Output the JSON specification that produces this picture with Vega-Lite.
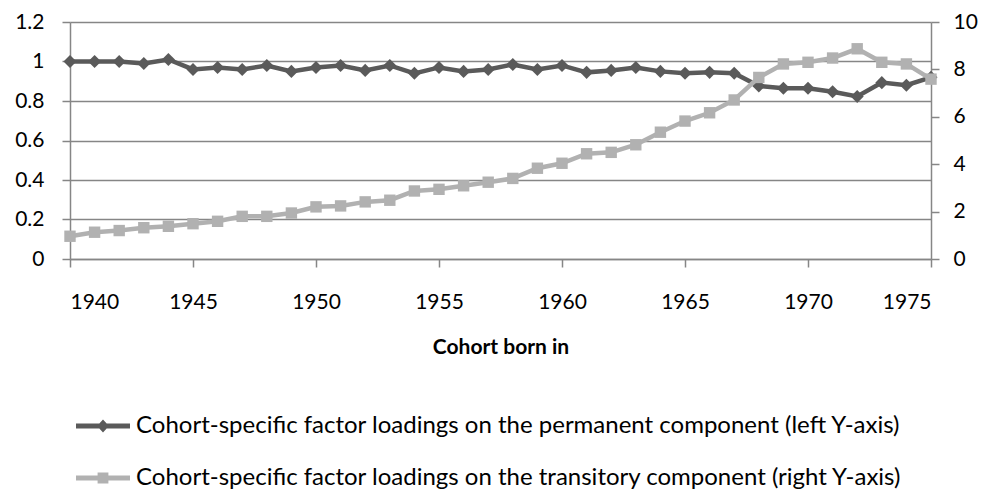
{
  "$schema": "https://vega.github.io/schema/vega-lite/v6.json",
  "width": 861,
  "height": 237,
  "autosize": "none",
  "padding": {"left": 70, "top": 22, "right": 54, "bottom": 230},
  "config": {
    "font": "Lato",
    "view": {"stroke": null},
    "axis": {
      "labelFont": "Lato",
      "labelFontSize": 21,
      "labelColor": "#000000",
      "domainColor": "#868686",
      "domainWidth": 1.5,
      "tickColor": "#868686",
      "tickWidth": 1.5,
      "tickSize": 8,
      "gridColor": "#868686",
      "gridWidth": 1.5
    }
  },
  "data": {
    "values": [
      {"year": 1940, "perm": 1.0, "trans": 0.96},
      {"year": 1941, "perm": 1.0, "trans": 1.13},
      {"year": 1942, "perm": 1.0, "trans": 1.2},
      {"year": 1943, "perm": 0.99, "trans": 1.32},
      {"year": 1944, "perm": 1.01, "trans": 1.38},
      {"year": 1945, "perm": 0.96, "trans": 1.49},
      {"year": 1946, "perm": 0.97, "trans": 1.59},
      {"year": 1947, "perm": 0.96, "trans": 1.8},
      {"year": 1948, "perm": 0.98, "trans": 1.8},
      {"year": 1949, "perm": 0.95, "trans": 1.94},
      {"year": 1950, "perm": 0.97, "trans": 2.2},
      {"year": 1951, "perm": 0.98, "trans": 2.24},
      {"year": 1952, "perm": 0.955, "trans": 2.41},
      {"year": 1953, "perm": 0.98, "trans": 2.48},
      {"year": 1954, "perm": 0.94, "trans": 2.87},
      {"year": 1955, "perm": 0.97, "trans": 2.94},
      {"year": 1956, "perm": 0.95, "trans": 3.09},
      {"year": 1957, "perm": 0.96, "trans": 3.24},
      {"year": 1958, "perm": 0.985, "trans": 3.4},
      {"year": 1959, "perm": 0.96, "trans": 3.83},
      {"year": 1960, "perm": 0.98, "trans": 4.04},
      {"year": 1961, "perm": 0.945, "trans": 4.44},
      {"year": 1962, "perm": 0.955, "trans": 4.5},
      {"year": 1963, "perm": 0.97, "trans": 4.82},
      {"year": 1964, "perm": 0.95, "trans": 5.35},
      {"year": 1965, "perm": 0.94, "trans": 5.82},
      {"year": 1966, "perm": 0.945, "trans": 6.17},
      {"year": 1967, "perm": 0.94, "trans": 6.71},
      {"year": 1968, "perm": 0.876, "trans": 7.66},
      {"year": 1969, "perm": 0.865, "trans": 8.23},
      {"year": 1970, "perm": 0.865, "trans": 8.3},
      {"year": 1971, "perm": 0.847, "trans": 8.48},
      {"year": 1972, "perm": 0.823, "trans": 8.87},
      {"year": 1973, "perm": 0.893, "trans": 8.3},
      {"year": 1974, "perm": 0.88, "trans": 8.23},
      {"year": 1975, "perm": 0.92, "trans": 7.59}
    ]
  },
  "encoding": {
    "x": {
      "field": "year",
      "type": "quantitative",
      "scale": {"domain": [1940, 1975], "nice": false, "zero": false},
      "axis": {
        "values": [1940, 1945, 1950, 1955, 1960, 1965, 1970, 1975],
        "format": "d",
        "grid": false,
        "labelPadding": 24,
        "title": "Cohort born in",
        "titleFont": "Lato",
        "titleFontSize": 21,
        "titleFontWeight": "bold",
        "titleColor": "#000000",
        "titlePadding": 24
      }
    }
  },
  "layer": [
    {
      "mark": {
        "type": "line",
        "strokeWidth": 4.5,
        "point": {"shape": "diamond", "filled": true, "size": 170, "opacity": 1}
      },
      "encoding": {
        "y": {
          "field": "perm",
          "type": "quantitative",
          "scale": {"domain": [0, 1.2], "nice": false},
          "axis": {
            "orient": "left",
            "values": [0, 0.2, 0.4, 0.6, 0.8, 1, 1.2],
            "format": "~g",
            "grid": true,
            "labelPadding": 18,
            "title": null
          }
        },
        "color": {
          "datum": "Cohort-specific factor loadings on the permanent component (left Y-axis)",
          "type": "nominal",
          "scale": {
            "domain": [
              "Cohort-specific factor loadings on the permanent component (left Y-axis)",
              "Cohort-specific factor loadings on the transitory component (right Y-axis)"
            ],
            "range": ["#5a5a5a", "#b1b1b1"]
          },
          "legend": {
            "title": null,
            "orient": "none",
            "legendX": 6,
            "legendY": 377,
            "direction": "vertical",
            "symbolSize": 2916,
            "labelFont": "Lato",
            "labelFontSize": 24,
            "labelColor": "#000000",
            "labelOffset": 6,
            "labelLimit": 900,
            "rowPadding": 13,
            "encode": {
              "symbols": {
                "update": {
                  "shape": {"signal": "indexof(datum.value, 'permanent') >= 0 ? 'M-1,-0.09L1,-0.09L1,0.09L-1,0.09Z M0,-0.24L0.22,0L0,0.24L-0.22,0Z' : 'M-1,-0.09L1,-0.09L1,0.09L-1,0.09Z M-0.2,-0.2L0.2,-0.2L0.2,0.2L-0.2,0.2Z'"},
                  "fill": {"signal": "indexof(datum.value, 'permanent') >= 0 ? '#5a5a5a' : '#b1b1b1'"},
                  "fillOpacity": {"value": 1},
                  "strokeWidth": {"value": 0}
                }
              }
            }
          }
        }
      }
    },
    {
      "mark": {
        "type": "line",
        "strokeWidth": 4.5,
        "point": {"shape": "square", "filled": true, "size": 130, "opacity": 1}
      },
      "encoding": {
        "y": {
          "field": "trans",
          "type": "quantitative",
          "scale": {"domain": [0, 10], "nice": false},
          "axis": {
            "orient": "right",
            "values": [0, 2, 4, 6, 8, 10],
            "grid": false,
            "labelPadding": 14,
            "title": null
          }
        },
        "color": {
          "datum": "Cohort-specific factor loadings on the transitory component (right Y-axis)",
          "type": "nominal"
        }
      }
    }
  ],
  "resolve": {"scale": {"y": "independent"}}
}
